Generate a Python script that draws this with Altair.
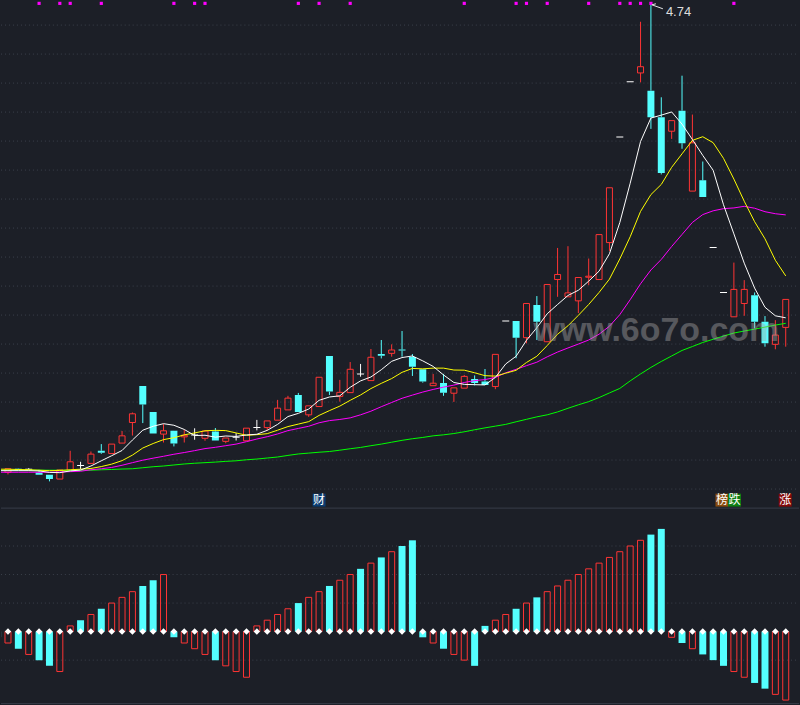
import altair as alt
import pandas as pd
import numpy as np

# ---------------- data ----------------
idx = list(range(-1, 76))
opens = [1.533, 1.516, 1.540, 1.537, 1.515, 1.499, 1.469, 1.529, 1.563, 1.577,
         1.664, 1.645, 1.717, 1.859, 2.111, 1.932, 1.779, 1.802, 1.760, 1.772,
         1.750, 1.797, 1.729, 1.757, 1.733, 1.824, 1.824, 1.875, 1.946, 2.049,
         1.912, 1.969, 2.318, 2.039, 2.065, 2.194, 2.148, 2.331, 2.336, 2.362,
         2.311, 2.226, 2.113, 2.132, 2.061, 2.096, 2.159, 2.141, 2.107, 2.559,
         2.559, 2.444, 2.669, 2.416, 2.845, 2.726, 2.698, 2.861, 2.845, 3.100,
         3.829, 4.210, 4.270, 4.148, 3.964, 3.868, 4.010, 3.455, 3.529, 3.066,
         2.756, 2.588, 2.680, 2.737, 2.554, 2.398, 2.515]
highs = [1.540, 1.540, 1.542, 1.544, 1.533, 1.499, 1.537, 1.664, 1.588, 1.659,
         1.710, 1.710, 1.800, 1.928, 2.111, 1.932, 1.848, 1.802, 1.809, 1.819,
         1.800, 1.821, 1.752, 1.786, 1.820, 1.877, 1.870, 2.015, 2.043, 2.063,
         1.974, 2.171, 2.318, 2.153, 2.276, 2.263, 2.366, 2.428, 2.398, 2.490,
         2.331, 2.226, 2.194, 2.194, 2.098, 2.187, 2.184, 2.228, 2.329, 2.559,
         2.559, 2.680, 2.731, 2.811, 3.063, 3.075, 2.859, 2.990, 3.155, 3.478,
         3.829, 4.210, 4.623, 4.740, 4.102, 3.941, 4.251, 3.983, 3.659, 3.066,
         2.756, 2.962, 2.841, 2.756, 2.593, 2.565, 2.708]
lows = [1.513, 1.501, 1.527, 1.527, 1.499, 1.453, 1.469, 1.529, 1.538, 1.577,
        1.643, 1.645, 1.717, 1.769, 1.855, 1.783, 1.721, 1.694, 1.721, 1.740,
        1.733, 1.735, 1.716, 1.735, 1.733, 1.805, 1.802, 1.875, 1.946, 1.932,
        1.898, 1.969, 2.049, 2.003, 2.065, 2.175, 2.148, 2.301, 2.313, 2.313,
        2.180, 2.134, 2.113, 2.043, 2.001, 2.096, 2.115, 2.118, 2.089, 2.559,
        2.302, 2.405, 2.428, 2.416, 2.726, 2.726, 2.614, 2.806, 2.845, 3.042,
        3.829, 4.210, 4.205, 3.884, 3.570, 3.815, 3.747, 3.455, 3.414, 3.066,
        2.756, 2.588, 2.595, 2.508, 2.382, 2.364, 2.382]
closes = [1.520, 1.540, 1.529, 1.537, 1.499, 1.469, 1.533, 1.588, 1.563, 1.641,
          1.650, 1.710, 1.767, 1.919, 1.983, 1.783, 1.802, 1.714, 1.771, 1.772,
          1.800, 1.735, 1.752, 1.757, 1.820, 1.824, 1.870, 1.958, 2.027, 1.932,
          1.974, 2.171, 2.072, 2.067, 2.226, 2.194, 2.309, 2.320, 2.359, 2.356,
          2.244, 2.141, 2.130, 2.065, 2.098, 2.177, 2.132, 2.118, 2.329, 2.559,
          2.444, 2.680, 2.554, 2.811, 2.880, 2.753, 2.859, 2.868, 3.155, 3.478,
          3.829, 4.210, 4.313, 3.964, 3.579, 3.941, 3.785, 3.788, 3.414, 3.066,
          2.756, 2.777, 2.777, 2.554, 2.405, 2.462, 2.708]

ma5 = [1.527, 1.527, 1.527, 1.527, 1.525, 1.515, 1.513, 1.525, 1.531, 1.559,
       1.595, 1.630, 1.666, 1.738, 1.806, 1.833, 1.851, 1.840, 1.811, 1.769,
       1.771, 1.758, 1.766, 1.763, 1.773, 1.778, 1.805, 1.846, 1.900, 1.922,
       1.952, 2.012, 2.035, 2.043, 2.102, 2.146, 2.173, 2.223, 2.281, 2.307,
       2.318, 2.284, 2.246, 2.187, 2.135, 2.122, 2.120, 2.118, 2.170, 2.263,
       2.316, 2.426, 2.513, 2.609, 2.673, 2.735, 2.771, 2.834, 2.903, 3.023,
       3.238, 3.509, 3.797, 3.959, 3.979, 4.001, 3.917, 3.811, 3.701, 3.599,
       3.361, 3.160, 2.958, 2.786, 2.654, 2.595, 2.581]
ma10 = [1.537, 1.537, 1.535, 1.533, 1.530, 1.527, 1.528, 1.533, 1.537, 1.542,
        1.555, 1.572, 1.596, 1.634, 1.683, 1.714, 1.741, 1.754, 1.774, 1.787,
        1.802, 1.805, 1.803, 1.787, 1.771, 1.775, 1.782, 1.806, 1.831, 1.848,
        1.865, 1.908, 1.941, 1.972, 2.012, 2.049, 2.093, 2.129, 2.162, 2.205,
        2.232, 2.229, 2.234, 2.234, 2.221, 2.220, 2.202, 2.182, 2.179, 2.199,
        2.219, 2.273, 2.316, 2.390, 2.468, 2.526, 2.598, 2.673, 2.756, 2.848,
        2.987, 3.140, 3.315, 3.431, 3.501, 3.619, 3.712, 3.805, 3.830, 3.789,
        3.681, 3.538, 3.385, 3.244, 3.126, 2.978, 2.870]
ma20 = [1.516, 1.516, 1.516, 1.516, 1.516, 1.516, 1.518, 1.520, 1.523, 1.533,
        1.540, 1.549, 1.564, 1.582, 1.599, 1.613, 1.626, 1.640, 1.652, 1.665,
        1.679, 1.688, 1.699, 1.710, 1.727, 1.745, 1.761, 1.780, 1.803, 1.818,
        1.833, 1.857, 1.872, 1.880, 1.891, 1.912, 1.937, 1.968, 1.997, 2.026,
        2.048, 2.069, 2.087, 2.103, 2.117, 2.135, 2.148, 2.155, 2.170, 2.202,
        2.226, 2.251, 2.275, 2.312, 2.345, 2.373, 2.400, 2.428, 2.468, 2.523,
        2.603, 2.706, 2.816, 2.911, 2.984, 3.073, 3.156, 3.239, 3.293, 3.319,
        3.334, 3.339, 3.350, 3.337, 3.313, 3.299, 3.291]
ma60 = [1.530, 1.530, 1.530, 1.530, 1.530, 1.530, 1.530, 1.529, 1.529, 1.530,
        1.533, 1.535, 1.538, 1.540, 1.547, 1.554, 1.559, 1.566, 1.573, 1.578,
        1.582, 1.586, 1.591, 1.595, 1.602, 1.607, 1.614, 1.621, 1.632, 1.642,
        1.648, 1.654, 1.659, 1.668, 1.678, 1.687, 1.699, 1.710, 1.723, 1.736,
        1.747, 1.756, 1.767, 1.774, 1.783, 1.795, 1.809, 1.822, 1.834, 1.846,
        1.864, 1.881, 1.898, 1.912, 1.932, 1.957, 1.981, 2.003, 2.031, 2.063,
        2.094, 2.146, 2.194, 2.239, 2.280, 2.318, 2.356, 2.383, 2.411, 2.433,
        2.455, 2.476, 2.490, 2.503, 2.517, 2.531, 2.543]

signal = [-1, -2, -3, -4, -5, -6, -7,
          1, 2, 3, 4, 5, 6, 7, 8, 9, 10,
          -1, -2, -3, -4, -5, -6, -7, -8,
          1, 2, 3, 4, 5, 6, 7, 8, 9, 10, 11, 12, 13, 14, 15, 16,
          -1, -2, -3, -4, -5, -6,
          1, 2, 3, 4, 5, 6, 7, 8, 9, 10, 11, 12, 13, 14, 15, 16, 17, 18,
          -1, -2, -3, -4, -5, -6, -7, -8, -9, -10, -11, -12]

flag_days = [3, 5, 6, 9, 16, 18, 19, 28, 30, 33, 44, 49, 50, 52, 56, 59, 60, 61, 62, 70]
tag_text = ["财", "榜", "跌", "涨"]
tag_day = [30, 68.85, 70.06, 74.95]
tag_bg = ["#0b3d72", "#8a4c0e", "#0d7d12", "#850a0a"]
price_grid = [4.6, 4.4, 4.2, 4.0, 3.8, 3.6, 3.4, 3.2, 3.0, 2.8, 2.6, 2.4, 2.2, 2.0, 1.8, 1.6, 1.4]
sig_grid = [15, 10, 5, -5]
peak_label = "4.74"
watermark = "www.6o7o.com"

# ---------------- styling ----------------
BG = "#1c1f27"
RED = "#ff3434"
CYAN = "#54ffff"
GRID = "#3b404b"
W, HT, HB = 800, 508, 197

df = pd.DataFrame({"i": idx, "open": opens, "high": highs, "low": lows, "close": closes,
                   "ma5": ma5, "ma10": ma10, "ma20": ma20, "ma60": ma60, "sig": signal})
df["top"] = df[["open", "close"]].max(axis=1)
df["bot"] = df[["open", "close"]].min(axis=1)
df["kind"] = np.where(df.close > df.open, "up", np.where(df.close < df.open, "down", "flat"))
prev = df.close.shift(1).fillna(df.close)
df["bkind"] = np.where(df.kind == "up", "up",
                       np.where(df.kind == "down", "down",
                                np.where(df.close >= prev, "up", "down")))
df["zero"] = 0.0

xs = alt.Scale(domain=[-0.673, 76.28], nice=False, zero=False, padding=0)
ys = alt.Scale(domain=[1.272, 4.767], nice=False, zero=False)
X = alt.X("i:Q", scale=xs, axis=None)

base = alt.Chart(df)

grid_top = alt.Chart(pd.DataFrame({"g": price_grid})).mark_rule(
    color=GRID, strokeDash=[1, 3], strokeWidth=1).encode(
    y=alt.Y("g:Q", scale=ys, axis=None), x=alt.value(0), x2=alt.value(W))

wcol = alt.Color("kind:N", scale=alt.Scale(domain=["up", "down", "flat"], range=[RED, CYAN, "#ffffff"]), legend=None)
wick_up = base.mark_rule(strokeWidth=1, clip=True).encode(
    x=X, y=alt.Y("high:Q", scale=ys, axis=None), y2="top:Q", color=wcol)
wick_dn = base.mark_rule(strokeWidth=1, clip=True).encode(
    x=X, y=alt.Y("bot:Q", scale=ys, axis=None), y2="low:Q", color=wcol)

body_up = base.transform_filter("datum.kind == 'up'").mark_bar(
    size=6, fillOpacity=0, stroke=RED, strokeWidth=1, clip=True).encode(
    x=X, y=alt.Y("open:Q", scale=ys, axis=None), y2="close:Q")
body_dn = base.transform_filter("datum.kind == 'down'").mark_bar(
    size=7, color=CYAN, clip=True).encode(
    x=X, y=alt.Y("open:Q", scale=ys, axis=None), y2="close:Q")
body_flat = base.transform_filter("datum.kind == 'flat'").mark_tick(
    orient="horizontal", size=7, thickness=1, color="#ffffff", opacity=1, clip=True).encode(
    x=X, y=alt.Y("close:Q", scale=ys, axis=None))

def ma_line(field, color):
    return base.mark_line(color=color, strokeWidth=1, clip=True).encode(
        x=X, y=alt.Y(f"{field}:Q", scale=ys, axis=None))

lines = [ma_line("ma60", "#00ff00"), ma_line("ma20", "#ff00ff"),
         ma_line("ma10", "#ffff00"), ma_line("ma5", "#ffffff")]

flags = alt.Chart(pd.DataFrame({"i": flag_days})).mark_square(
    size=10, color="#ff00ff", opacity=1).encode(x=X, y=alt.value(2.5))

peak = base.transform_filter("datum.i == 62")
peak_line = peak.mark_rule(color="#e8e8e8", strokeWidth=1, xOffset=1, x2Offset=12, y2Offset=4).encode(
    x=X, x2="i:Q", y=alt.Y("high:Q", scale=ys, axis=None), y2="high:Q")
peak_head = peak.mark_rule(color="#e8e8e8", strokeWidth=1, xOffset=1, x2Offset=5, y2Offset=-1).encode(
    x=X, x2="i:Q", y=alt.Y("high:Q", scale=ys, axis=None), y2="high:Q")
peak_text = peak.mark_text(align="left", baseline="middle", dx=15, dy=7, fontSize=13,
                           font="Liberation Sans", color="#dcdcdc").encode(
    x=X, y=alt.Y("high:Q", scale=ys, axis=None), text=alt.value(peak_label))

tags_df = pd.DataFrame({"i": tag_day, "t": tag_text, "bg": tag_bg})
tag_box = alt.Chart(tags_df).mark_square(size=169, opacity=1).encode(
    x=X, y=alt.value(500.5), color=alt.Color("bg:N", scale=None, legend=None))
tag_txt = alt.Chart(tags_df).mark_text(fontSize=12, color="#ffffff", baseline="middle",
                                       font="Noto Sans CJK SC").encode(
    x=X, y=alt.value(500.5), text="t:N")

wm = alt.Chart(pd.DataFrame({"t": [watermark]})).mark_text(
    fontSize=34, font="Liberation Sans", fontWeight="bold", color="#a8a8a8", opacity=0.42,
    align="center", baseline="middle").encode(x=alt.value(657), y=alt.value(331), text="t:N")

top = alt.layer(grid_top, wick_up, wick_dn, body_up, body_dn, body_flat, *lines,
                flags, peak_line, peak_head, peak_text, tag_box, tag_txt, wm).properties(width=W, height=HT)

# ---------------- bottom panel ----------------
yb = alt.Scale(domain=[-12.71, 21.73], nice=False, zero=False)
grid_bot = alt.Chart(pd.DataFrame({"g": sig_grid})).mark_rule(
    color=GRID, strokeDash=[1, 3], strokeWidth=1).encode(
    y=alt.Y("g:Q", scale=yb, axis=None), x=alt.value(0), x2=alt.value(W))
sep = alt.Chart(pd.DataFrame({"y": [0.5, 196.5]})).mark_rule(color="#363c48", strokeWidth=1).encode(
    y=alt.Y("y:Q", scale=None), x=alt.value(0), x2=alt.value(W))
bar_up = base.transform_filter("datum.bkind == 'up'").mark_bar(
    size=6, fillOpacity=0, stroke=RED, strokeWidth=1, clip=True).encode(
    x=X, y=alt.Y("sig:Q", scale=yb, axis=None), y2="zero:Q")
bar_dn = base.transform_filter("datum.bkind == 'down'").mark_bar(
    size=7, color=CYAN, clip=True).encode(
    x=X, y=alt.Y("sig:Q", scale=yb, axis=None), y2="zero:Q")
dots = base.mark_point(shape="diamond", filled=True, color="#ffffff", size=42, opacity=1, clip=True).encode(
    x=X, y=alt.Y("zero:Q", scale=yb, axis=None))

bottom = alt.layer(grid_bot, sep, bar_up, bar_dn, dots).properties(width=W, height=HB)

chart = alt.vconcat(top, bottom, spacing=0).resolve_scale(
    x="independent", y="independent", color="independent").configure(
    background=BG, padding=0).configure_view(stroke=None).configure_concat(spacing=0)

chart.save("out.html", embed_options={"renderer": "svg", "actions": False})
